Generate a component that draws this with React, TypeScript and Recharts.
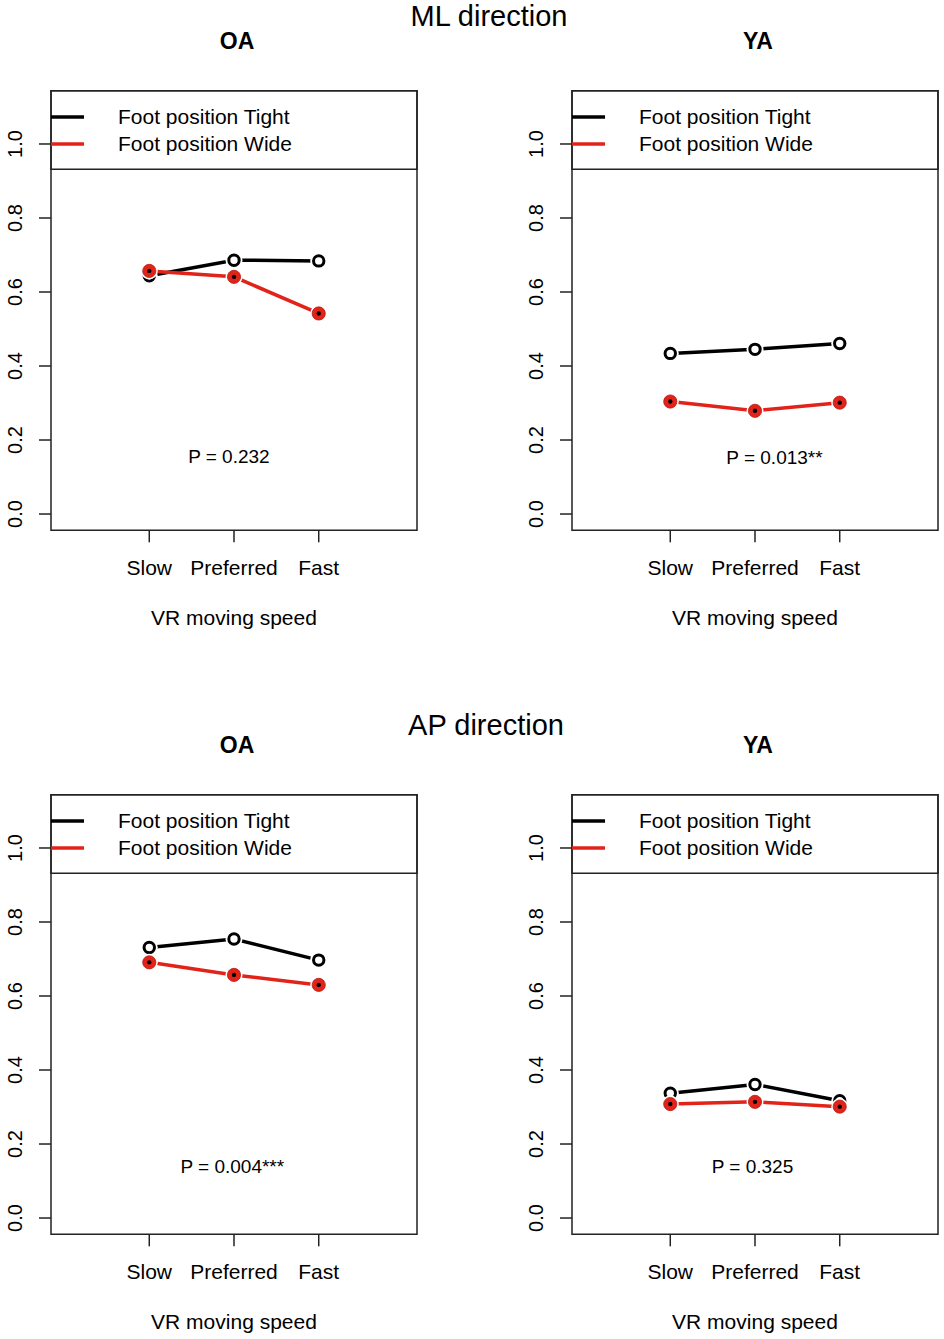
import React from "react";
import {
  LineChart,
  Line,
  XAxis,
  YAxis,
  ReferenceArea,
  ReferenceLine,
  ReferenceDot,
} from "recharts";

// --- data ---
const speeds = ["Slow", "Preferred", "Fast"];
const speedIndex = [1, 2, 3];

const mlOaTight = [0.644, 0.686, 0.684];
const mlOaWide = [0.657, 0.641, 0.542];
const mlYaTight = [0.434, 0.445, 0.461];
const mlYaWide = [0.304, 0.279, 0.301];
const apOaTight = [0.731, 0.754, 0.697];
const apOaWide = [0.691, 0.657, 0.63];
const apYaTight = [0.337, 0.361, 0.317];
const apYaWide = [0.308, 0.314, 0.301];

const yTicks = [0, 0.2, 0.4, 0.6, 0.8, 1.0];
const legendNames = ["Foot position Tight", "Foot position Wide"];
const pLabels = ["P = 0.232", "P = 0.013**", "P = 0.004***", "P = 0.325"];
const pLabelX = [1.94, 2.23, 1.98, 1.97];
const pLabelY = [0.157, 0.154, 0.141, 0.141];

const X_DOMAIN: [number, number] = [-0.16, 4.16];
const Y_DOMAIN: [number, number] = [-0.044, 1.144];
const LEGEND_BOTTOM = 0.932;
const LEGEND_ROWS = [1.073, 1.0];

const RED = "#e2231a";
const FONT = "'Liberation Sans', Arial, Helvetica, sans-serif";

const W = 423;
const H = 635;

function buildRows(tight: number[], wide: number[]) {
  return speedIndex.map((x, i) => ({ x, tight: tight[i], wide: wide[i] }));
}

const panels = [
  { group: "OA", rows: buildRows(mlOaTight, mlOaWide), left: 0, top: 0 },
  { group: "YA", rows: buildRows(mlYaTight, mlYaWide), left: 521, top: 0 },
  { group: "OA", rows: buildRows(apOaTight, apOaWide), left: 0, top: 704 },
  { group: "YA", rows: buildRows(apYaTight, apYaWide), left: 521, top: 704 },
];

const TightDot = (props: any) => {
  const { cx, cy } = props;
  if (cx == null || cy == null) return null;
  return (
    <g>
      <circle cx={cx} cy={cy} r={8.5} fill="#fff" />
      <circle cx={cx} cy={cy} r={5.2} fill="#fff" stroke="#000" strokeWidth={3} />
    </g>
  );
};

const WideDot = (props: any) => {
  const { cx, cy } = props;
  if (cx == null || cy == null) return null;
  return (
    <g>
      <circle cx={cx} cy={cy} r={8.5} fill="#fff" />
      <circle cx={cx} cy={cy} r={6.6} fill={RED} stroke="#b81a12" strokeWidth={0.8} />
      <circle cx={cx} cy={cy} r={2.2} fill="#000" />
    </g>
  );
};

const YTick = (props: any) => {
  const { x, y, payload } = props;
  return (
    <text
      x={x}
      y={y}
      transform={`rotate(-90 ${x} ${y})`}
      textAnchor="middle"
      fontSize={20}
      fill="#000"
      fontFamily={FONT}
    >
      {Number(payload.value).toFixed(1)}
    </text>
  );
};

function Panel({ rows, index }: { rows: any[]; index: number }) {
  return (
    <LineChart
      width={W}
      height={H}
      data={rows}
      margin={{ top: 90.7, right: 6, bottom: 4.7, left: 0 }}
      style={{ fontFamily: FONT }}
    >
      <XAxis
        type="number"
        dataKey="x"
        domain={X_DOMAIN}
        ticks={speedIndex}
        allowDataOverflow
        tickFormatter={(v) => speeds[v - 1]}
        axisLine={false}
        tickSize={12}
        tickMargin={18}
        tickLine={{ stroke: "#222", strokeWidth: 1.5 }}
        tick={{ fill: "#000", fontSize: 21 }}
        height={100}
        label={{ value: "VR moving speed", position: "insideBottom", offset: 5, fill: "#000", fontSize: 21 }}
      />
      <YAxis
        type="number"
        domain={Y_DOMAIN}
        ticks={yTicks}
        allowDataOverflow
        axisLine={false}
        width={51}
        tickSize={12}
        tickMargin={17}
        tickLine={{ stroke: "#222", strokeWidth: 1.5 }}
        tick={<YTick />}
      />
      {/* legend box */}
      <ReferenceArea
        x1={X_DOMAIN[0]}
        x2={X_DOMAIN[1]}
        y1={LEGEND_BOTTOM}
        y2={Y_DOMAIN[1]}
        fill="#fff"
        fillOpacity={1}
        stroke="#222"
        strokeWidth={1.5}
        ifOverflow="visible"
      />
      {LEGEND_ROWS.map((ly, i) => (
        <ReferenceLine
          key={`lg${i}`}
          segment={[
            { x: X_DOMAIN[0], y: ly },
            { x: 0.23, y: ly },
          ]}
          stroke={i === 0 ? "#000" : RED}
          strokeWidth={3.5}
          ifOverflow="visible"
        />
      ))}
      {LEGEND_ROWS.map((ly, i) => (
        <ReferenceDot
          key={`lt${i}`}
          x={0.631}
          y={ly}
          r={0}
          fill="none"
          stroke="none"
          ifOverflow="visible"
          label={{ value: legendNames[i], position: "right", offset: 0, fill: "#000", fontSize: 21 }}
        />
      ))}
      <ReferenceDot
        x={pLabelX[index]}
        y={pLabelY[index]}
        r={0}
        fill="none"
        stroke="none"
        ifOverflow="visible"
        label={{ value: pLabels[index], position: "center", fill: "#000", fontSize: 19 }}
      />
      <Line
        type="linear"
        dataKey="tight"
        stroke="#000"
        strokeWidth={3.5}
        dot={<TightDot />}
        activeDot={false}
        isAnimationActive={false}
      />
      <Line
        type="linear"
        dataKey="wide"
        stroke={RED}
        strokeWidth={3.5}
        dot={<WideDot />}
        activeDot={false}
        isAnimationActive={false}
      />
      {/* plot frame */}
      <ReferenceArea
        x1={X_DOMAIN[0]}
        x2={X_DOMAIN[1]}
        y1={Y_DOMAIN[0]}
        y2={Y_DOMAIN[1]}
        fill="none"
        stroke="#222"
        strokeWidth={1.5}
        ifOverflow="visible"
      />
    </LineChart>
  );
}

export default function App() {
  return (
    <div
      style={{
        position: "absolute",
        left: 0,
        top: 0,
        width: 944,
        height: 1339,
        background: "#fff",
        fontFamily: FONT,
        color: "#000",
        overflow: "hidden",
      }}
    >
      {panels.map((p, i) => (
        <div key={i} style={{ position: "absolute", left: p.left, top: p.top, width: W, height: H }}>
          <Panel rows={p.rows} index={i} />
          <div
            style={{
              position: "absolute",
              left: 237 - 60,
              width: 120,
              top: 30,
              textAlign: "center",
              fontWeight: "bold",
              fontSize: 23,
              lineHeight: "23px",
            }}
          >
            {p.group}
          </div>
        </div>
      ))}
      <div style={{ position: "absolute", left: 489 - 150, width: 300, top: 2, textAlign: "center", fontSize: 29, lineHeight: "29px" }}>
        ML direction
      </div>
      <div style={{ position: "absolute", left: 486 - 150, width: 300, top: 711, textAlign: "center", fontSize: 29, lineHeight: "29px" }}>
        AP direction
      </div>
    </div>
  );
}
